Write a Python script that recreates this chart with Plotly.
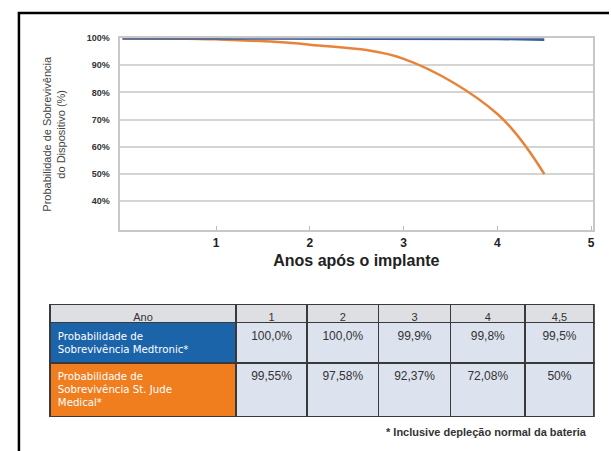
import plotly.graph_objects as go

# ---- data ----
anos = [1, 2, 3, 4, 4.5]
ano_labels = ["1", "2", "3", "4", "4,5"]
medtronic = [100.0, 100.0, 99.9, 99.8, 99.5]
st_jude = [99.55, 97.58, 92.37, 72.08, 50.0]
medtronic_txt = ["100,0%", "100,0%", "99,9%", "99,8%", "99,5%"]
st_jude_txt = ["99,55%", "97,58%", "92,37%", "72,08%", "50%"]
row_labels = ["Probabilidade de<br>Sobrevivência Medtronic*",
              "Probabilidade de<br>Sobrevivência St. Jude<br>Medical*"]
y_ticks = [40, 50, 60, 70, 80, 90, 100]
y_tick_labels = ["40%", "50%", "60%", "70%", "80%", "90%", "100%"]
x_ticks = [1, 2, 3, 4, 5]

# implant time (year 0) = 100% for both curves
x_line = [0] + anos
med_line = [100.0] + medtronic
sj_line = [100.0] + st_jude

W, H = 611, 451
def px(x):
    return x / W
def py(y):
    return 1 - y / H

FONT = "Liberation Sans, Arial, sans-serif"
LABEL_FONT = "DejaVu Sans, sans-serif"
BLUE_LINE = "#3b5d98"
ORANGE_LINE = "#e8843a"
BLUE_CELL = "#1c64aa"
ORANGE_CELL = "#f07e1f"
VALUE_CELL = "#dde3ee"
HEADER_CELL = "#dedfe3"

fig = go.Figure()

fig.add_trace(go.Scatter(
    x=x_line, y=sj_line, mode="lines",
    line=dict(color=ORANGE_LINE, width=2.5, shape="spline", smoothing=1.0),
    showlegend=False, hoverinfo="skip"))
fig.add_trace(go.Scatter(
    x=x_line, y=med_line, mode="lines",
    line=dict(color=BLUE_LINE, width=3),
    showlegend=False, hoverinfo="skip"))

fig.add_trace(go.Table(
    domain=dict(x=[px(50), px(596)], y=[py(430), py(303)]),
    columnwidth=[187, 71, 72, 72, 75, 69],
    header=dict(
        values=["Ano"] + ano_labels,
        fill_color=HEADER_CELL,
        line=dict(color="#3a3a3a", width=1.5),
        align="center",
        font=dict(family=FONT, size=11, color="#333333"),
        height=18),
    cells=dict(
        values=[row_labels] + [[m, s] for m, s in zip(medtronic_txt, st_jude_txt)],
        fill_color=[[BLUE_CELL, ORANGE_CELL]] + [VALUE_CELL] * 5,
        line=dict(color="#3a3a3a", width=1.5),
        align=["left"] + ["center"] * 5,
        font=dict(family=[LABEL_FONT] + [FONT] * 5,
                  size=[10.2] + [12] * 5,
                  color=[["white", "white"]] + [["#333333", "#333333"]] * 5),
        height=35),
))

fig.update_layout(
    width=W, height=H,
    margin=dict(l=0, r=0, t=0, b=0),
    paper_bgcolor="white", plot_bgcolor="white",
    font=dict(family=FONT, color="#333333"),
    xaxis=dict(
        domain=[px(120), px(595)],
        range=[-0.03, 5.02],
        tickvals=x_ticks,
        ticks="inside", ticklen=4, tickcolor="#bbbbbb",
        showgrid=False, zeroline=False,
        showline=True, linecolor="#c8c8c8", linewidth=2, mirror=True,
        tickfont=dict(size=12, color="#222222", weight="bold"),
        title=dict(text="Anos após o implante",
                   font=dict(size=16, color="#222222", weight="bold"), standoff=6),
    ),
    yaxis=dict(
        domain=[py(228), py(33.5)],
        range=[29.2, 100],
        tickvals=y_ticks, ticktext=y_tick_labels,
        showgrid=True, gridcolor="#d4d4d4", gridwidth=2,
        zeroline=False,
        showline=True, linecolor="#c8c8c8", linewidth=2, mirror=True,
        tickfont=dict(size=9, color="#333333", weight="bold"),
        ticks="", ticklabelstandoff=6,
        title=dict(text="Probabilidade de Sobrevivência<br>do Dispositivo (%)",
                   font=dict(size=11, color="#444444"), standoff=19),
    ),
    annotations=[dict(
        text="* Inclusive depleção normal da bateria",
        xref="paper", yref="paper", x=px(591), y=py(432),
        xanchor="right", yanchor="middle", showarrow=False,
        font=dict(size=11, color="#333333", weight="bold"))],
    shapes=[dict(
        type="path", xref="paper", yref="paper",
        path=f"M {px(19)},0 L {px(19)},{py(8)} L 1,{py(8)}",
        line=dict(color="black", width=2.5))],
)

fig.write_html("out.html",
               config={"displayModeBar": False},
               post_script="document.body.style.margin='0';document.body.style.overflow='hidden';")
